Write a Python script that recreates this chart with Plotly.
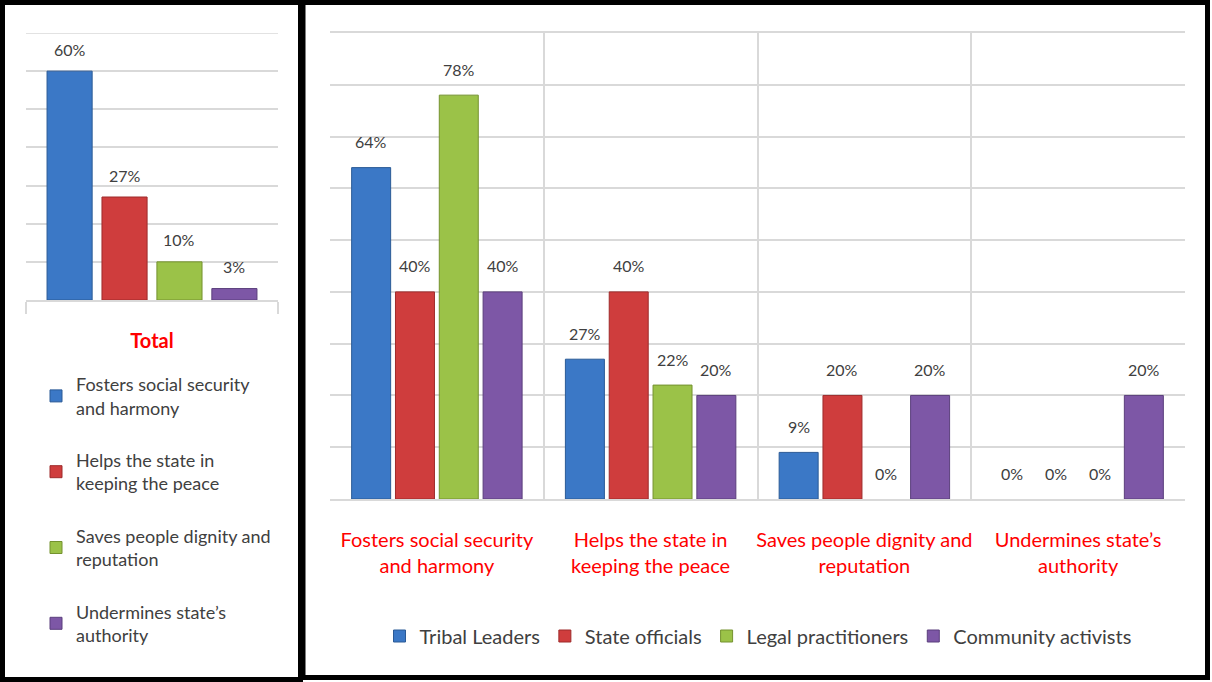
import plotly.graph_objects as go

# Response categories (shared by both panels)
categories = [
    "Fosters social security<br>and harmony",
    "Helps the state in<br>keeping the peace",
    "Saves people dignity and<br>reputation",
    "Undermines state’s<br>authority",
]

# Overall share per category
total_values = [60, 27, 10, 3]

# Shares by respondent group
respondents = ["Tribal Leaders", "State officials", "Legal practitioners", "Community activists"]
tribal_leaders = [64, 27, 9, 0]
state_officials = [40, 40, 20, 0]
legal_practitioners = [78, 22, 0, 0]
community_activists = [40, 20, 20, 20]

colors = ["#3b78c6", "#cf3d3d", "#9bc248", "#7d57a6"]
edges = ["#2b5a96", "#9e2b2b", "#74922f", "#5b3f7c"]

FONT = "Lato, Roboto, Liberation Sans, sans-serif"
GRID = "#d9d9d9"
TEXT = "#404040"
W, H = 1212, 682


def px_x(x):
    return x / W


def px_y(y):
    return (H - y) / H


fig = go.Figure()

# ---- left panel: totals, one bar per category, manually offset ----
slot_l = 0.218
bar_l = 0.179
for i, (name, val) in enumerate(zip(categories, total_values)):
    centre = (i - 1.5) * slot_l
    fig.add_trace(go.Bar(
        x=["Total"], y=[val], name=name,
        width=bar_l, offset=centre - bar_l / 2,
        marker=dict(color=colors[i], line=dict(color=edges[i], width=1)),
        xaxis="x", yaxis="y", legend="legend2", legendgroup=f"t{i}",
        hoverinfo="skip",
    ))
    fig.add_annotation(
        x=centre, y=val, xref="x", yref="y", text=f"{val}%",
        showarrow=False, yanchor="middle", yshift=22,
        font=dict(family=FONT, size=16, color=TEXT),
    )

# ---- right panel: grouped bars by respondent group ----
series = [tribal_leaders, state_officials, legal_practitioners, community_activists]
bargap = 0.18
slot_r = (1 - bargap) / 4
for i, (name, vals) in enumerate(zip(respondents, series)):
    fig.add_trace(go.Bar(
        x=categories, y=vals, name=name,
        marker=dict(color=colors[i],
                    line=dict(color=edges[i], width=[1 if v > 0 else 0 for v in vals])),
        xaxis="x2", yaxis="y2", legend="legend",
        hoverinfo="skip",
    ))
    for j, v in enumerate(vals):
        fig.add_annotation(
            x=j + (i - 1.5) * slot_r, y=v, xref="x2", yref="y2", text=f"{v}%",
            showarrow=False, yanchor="middle", yshift=26,
            font=dict(family=FONT, size=16, color=TEXT),
        )

# panel frames
fig.add_shape(type="rect", xref="paper", yref="paper",
              x0=px_x(2.5), x1=px_x(300.5), y0=px_y(679.5), y1=px_y(2.5),
              line=dict(color="black", width=5))
fig.add_shape(type="rect", xref="paper", yref="paper",
              x0=px_x(303), x1=px_x(1207.5), y0=px_y(677.5), y1=px_y(2.5),
              line=dict(color="black", width=5))

fig.update_layout(
    width=W, height=H,
    margin=dict(l=0, r=0, t=0, b=0, autoexpand=False),
    paper_bgcolor="white", plot_bgcolor="white",
    barmode="group", bargap=bargap, bargroupgap=0.11,
    font=dict(family=FONT, color=TEXT),
    xaxis=dict(
        domain=[px_x(26), px_x(278)], anchor="y", automargin=False,
        showgrid=False, showline=True, linecolor=GRID, linewidth=1.5, mirror=False,
        ticks="outside", tickson="boundaries", ticklen=12, tickcolor=GRID, tickwidth=1.5,
        tickfont=dict(family=FONT, size=20, color="#ff0000", weight="bold"),
        tickangle=0, ticklabelstandoff=22, fixedrange=True,
    ),
    yaxis=dict(
        domain=[px_y(300), px_y(33)], anchor="x", automargin=False,
        range=[0, 70], dtick=10, showticklabels=False,
        showgrid=True, gridcolor=GRID, gridwidth=1.5, zeroline=False, fixedrange=True,
    ),
    xaxis2=dict(
        domain=[px_x(330), px_x(1185)], anchor="y2", automargin=False,
        showgrid=True, gridcolor=GRID, gridwidth=1.5, tickson="boundaries",
        showline=True, linecolor=GRID, linewidth=1.5, mirror=True, ticks="",
        tickfont=dict(family=FONT, size=20, color="#ff0000"),
        tickangle=0, ticklabelstandoff=22, fixedrange=True,
    ),
    yaxis2=dict(
        domain=[px_y(499), px_y(33)], anchor="x2", automargin=False,
        range=[0, 90], dtick=10, showticklabels=False,
        showgrid=True, gridcolor=GRID, gridwidth=1.5, zeroline=False, fixedrange=True,
    ),
    legend=dict(
        orientation="h", x=px_x(758), xanchor="center", y=px_y(636), yanchor="middle",
        font=dict(family=FONT, size=20, color=TEXT), bgcolor="rgba(0,0,0,0)",
    ),
    legend2=dict(
        orientation="v", x=px_x(36), xanchor="left", y=px_y(366), yanchor="top",
        font=dict(family=FONT, size=18, color=TEXT), bgcolor="rgba(0,0,0,0)",
        tracegroupgap=26, traceorder="grouped",
    ),
)

# top gridline of the left panel sits at the range end
fig.add_shape(type="line", xref="x domain", yref="y", x0=0, x1=1, y0=70, y1=70,
              line=dict(color=GRID, width=1.5))

fig.write_html("out.html")
